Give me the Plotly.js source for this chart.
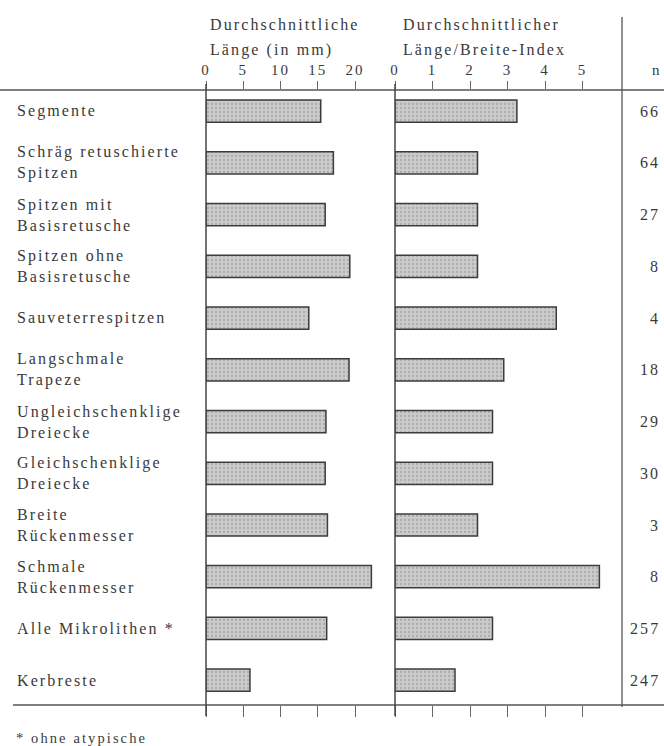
<!DOCTYPE html>
<html>
<head>
<meta charset="utf-8">
<script src="https://cdn.plot.ly/plotly-3.0.1.min.js"></script>
<style>
html,body{margin:0;padding:0;background:#fff;}
svg text{letter-spacing:2.1px;}
</style>
</head>
<body>
<div id="chart" style="width:664px;height:746px;"></div>
<script>
// ---- data ----
const categories = [
  "Segmente",
  "Schräg retuschierte<br>Spitzen",
  "Spitzen mit<br>Basisretusche",
  "Spitzen ohne<br>Basisretusche",
  "Sauveterrespitzen",
  "Langschmale<br>Trapeze",
  "Ungleichschenklige<br>Dreiecke",
  "Gleichschenklige<br>Dreiecke",
  "Breite<br>Rückenmesser",
  "Schmale<br>Rückenmesser",
  "Alle Mikrolithen *",
  "Kerbreste"
];
const meanLength = [15.4, 17.1, 16.0, 19.3, 13.8, 19.2, 16.1, 16.0, 16.3, 22.2, 16.2, 5.9];
const lengthWidthIndex = [3.25, 2.2, 2.2, 2.2, 4.3, 2.9, 2.6, 2.6, 2.2, 5.45, 2.6, 1.6];
const nValues = ["66", "64", "27", "8", "4", "18", "29", "30", "3", "8", "257", "247"];
const lengthTicks = [0, 5, 10, 15, 20];
const indexTicks = [0, 1, 2, 3, 4, 5];
const headerLeft = ["Durchschnittliche", "Länge (in mm)"];
const headerRight = ["Durchschnittlicher", "Länge/Breite-Index"];
const footnote = "* ohne atypische";

// ---- styling ----
const W = 664, H = 746, T = 90, B = 41;
const plotH = H - T - B;
const py = px => 1 + (T - px) / plotH;   // pixel row -> paper y
const pxX = px => px / W;                 // pixel col -> paper x
const serif = "Liberation Serif, Times New Roman, serif";
const ink = "#3a3a3a";
const FS = 16;

const barStyle = {
  color: "#c8c8c8",
  line: {color: "#3c3c3c", width: 1.5},
  pattern: {shape: ".", bgcolor: "#cbcbcb", fgcolor: "#8c8c8c", size: 4, solidity: 0.25, fillmode: "overlay"}
};

const traces = [
  {type: "bar", orientation: "h", y: categories, x: meanLength, xaxis: "x", yaxis: "y",
   marker: barStyle, width: 0.43, hoverinfo: "skip", showlegend: false},
  {type: "bar", orientation: "h", y: categories, x: lengthWidthIndex, xaxis: "x2", yaxis: "y",
   marker: barStyle, width: 0.43, hoverinfo: "skip", showlegend: false}
];

const leftDom = [pxX(206), pxX(395)];
const rightDom = [pxX(395), pxX(622)];
const leftRange = [0, (395 - 206) / 7.45];
const rightRange = [0, (622 - 395) / 37.5];

const tickFont = {family: serif, size: 15, color: ink};

const annotations = [];
categories.forEach((c, i) => {
  annotations.push({xref: "paper", yref: "y", x: pxX(15), y: c, text: c,
    xanchor: "left", yanchor: "middle", align: "left", showarrow: false,
    font: {family: serif, size: FS, color: ink}});
  annotations.push({xref: "paper", yref: "y", x: pxX(662), y: c, text: nValues[i],
    xanchor: "right", yanchor: "middle", showarrow: false,
    font: {family: serif, size: FS, color: ink}});
});
headerLeft.forEach((t, i) => annotations.push({xref: "paper", yref: "paper", x: pxX(208), y: py(i === 0 ? 25 : 50),
  text: t, xanchor: "left", yanchor: "middle", showarrow: false, font: {family: serif, size: FS, color: ink}}));
headerRight.forEach((t, i) => annotations.push({xref: "paper", yref: "paper", x: pxX(401), y: py(i === 0 ? 25 : 50),
  text: t, xanchor: "left", yanchor: "middle", showarrow: false, font: {family: serif, size: FS, color: ink}}));
annotations.push({xref: "paper", yref: "paper", x: pxX(657), y: py(70), text: "n",
  xanchor: "center", yanchor: "middle", showarrow: false, font: {family: serif, size: 15, color: ink}});
annotations.push({xref: "paper", yref: "paper", x: pxX(14), y: py(738), text: footnote,
  xanchor: "left", yanchor: "middle", showarrow: false, font: {family: serif, size: 14.5, color: ink}});

const lineStyle = {color: "#555", width: 1.3};
const shapes = [
  // top rule
  {type: "line", xref: "paper", yref: "paper", x0: 0, x1: 1, y0: 1, y1: 1, line: lineStyle},
  // bottom rule
  {type: "line", xref: "paper", yref: "paper", x0: pxX(13), x1: 1, y0: 0, y1: 0, line: lineStyle},
  // zero lines
  {type: "line", xref: "x domain", yref: "paper", x0: 0, x1: 0, y0: py(716), y1: py(84), line: {color: "#444", width: 1.5}},
  {type: "line", xref: "x2 domain", yref: "paper", x0: 0, x1: 0, y0: py(716), y1: py(84), line: {color: "#444", width: 1.5}},
  // n separator
  {type: "line", xref: "paper", yref: "paper", x0: pxX(622), x1: pxX(622), y0: py(707), y1: py(17), line: {color: "#555", width: 1.3}}
];

const baseAxis = {showgrid: false, zeroline: false, showline: false, fixedrange: true};

const layout = {
  width: W, height: H,
  margin: {l: 0, r: 0, t: T, b: B},
  paper_bgcolor: "#fff", plot_bgcolor: "#fff",
  bargap: 0.57,
  xaxis: Object.assign({}, baseAxis, {domain: leftDom, range: leftRange, side: "top", anchor: "y",
    tickmode: "array", tickvals: lengthTicks, ticks: "outside", ticklen: 8, tickcolor: "#666", tickwidth: 1,
    tickfont: tickFont}),
  xaxis2: Object.assign({}, baseAxis, {domain: rightDom, range: rightRange, side: "top", anchor: "y",
    tickmode: "array", tickvals: indexTicks, ticks: "outside", ticklen: 8, tickcolor: "#666", tickwidth: 1,
    tickfont: tickFont}),
  xaxis3: Object.assign({}, baseAxis, {overlaying: "x", range: leftRange, side: "bottom", anchor: "y",
    tickmode: "array", tickvals: lengthTicks, ticks: "outside", ticklen: 11, tickcolor: "#666", tickwidth: 1,
    showticklabels: false}),
  xaxis4: Object.assign({}, baseAxis, {overlaying: "x2", range: rightRange, side: "bottom", anchor: "y",
    tickmode: "array", tickvals: indexTicks, ticks: "outside", ticklen: 11, tickcolor: "#666", tickwidth: 1,
    showticklabels: false}),
  yaxis: Object.assign({}, baseAxis, {type: "category", categoryorder: "array", categoryarray: categories,
    range: [11.48, -0.41], showticklabels: false, ticks: ""}),
  annotations: annotations,
  shapes: shapes
};

// invisible traces so the overlay tick axes render
traces.push({type: "scatter", x: [], y: [], xaxis: "x3", yaxis: "y", showlegend: false, hoverinfo: "skip"});
traces.push({type: "scatter", x: [], y: [], xaxis: "x4", yaxis: "y", showlegend: false, hoverinfo: "skip"});

Plotly.newPlot("chart", traces, layout, {staticPlot: true, displayModeBar: false});
</script>
</body>
</html>
